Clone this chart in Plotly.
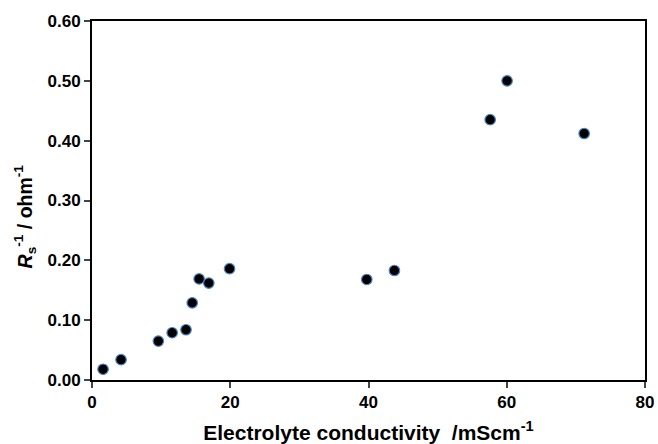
import plotly.graph_objects as go

conductivity = [1.6, 4.2, 9.6, 11.6, 13.6, 14.5, 15.5, 16.9, 19.9, 39.75, 43.75, 57.6, 60.05, 71.2]
rs_inverse = [0.018, 0.034, 0.065, 0.079, 0.084, 0.129, 0.169, 0.162, 0.186, 0.168, 0.183, 0.435, 0.500, 0.412]

x_ticks = [0, 20, 40, 60, 80]
y_ticks = [0.0, 0.1, 0.2, 0.3, 0.4, 0.5, 0.6]

fig = go.Figure()
fig.add_trace(go.Scatter(
    x=conductivity, y=rs_inverse, mode="markers",
    marker=dict(size=10.5, color="black", line=dict(color="#4a86c8", width=1.2)),
    showlegend=False,
))

font_family = "Liberation Sans, Arial, sans-serif"
fig.update_layout(
    width=658, height=444,
    margin=dict(l=92, r=13, t=21, b=64),
    paper_bgcolor="white", plot_bgcolor="white",
    font=dict(family=font_family, size=17, color="black", weight="bold"),
)
fig.update_xaxes(
    range=[0, 80], tickvals=x_ticks, ticks="outside", ticklen=6, tickwidth=2,
    showline=True, linecolor="black", linewidth=2, mirror=True, showgrid=False, zeroline=False,
    automargin=False,
    tickfont=dict(family=font_family, size=17, weight="bold"),
    title=dict(text="Electrolyte conductivity &nbsp;/mScm<sup>-1</sup>",
               font=dict(family=font_family, size=21, weight="bold"), standoff=14),
)
fig.update_yaxes(
    range=[0, 0.6], tickvals=y_ticks, tickformat=".2f", ticks="outside", ticklen=6, tickwidth=2,
    showline=True, linecolor="black", linewidth=2, mirror=True, showgrid=False, zeroline=False,
    automargin=False,
    tickfont=dict(family=font_family, size=17, weight="bold"),
    title=dict(text="<i>R</i><sub>s</sub><sup>-1</sup> / ohm<sup>-1</sup>" + "&nbsp;" * 6,
               font=dict(family=font_family, size=19.5, weight="bold"), standoff=10),
)

fig.write_html(
    "out.html",
    config={"displayModeBar": False},
    post_script="document.body.style.margin='0';document.body.style.overflow='hidden';",
)
